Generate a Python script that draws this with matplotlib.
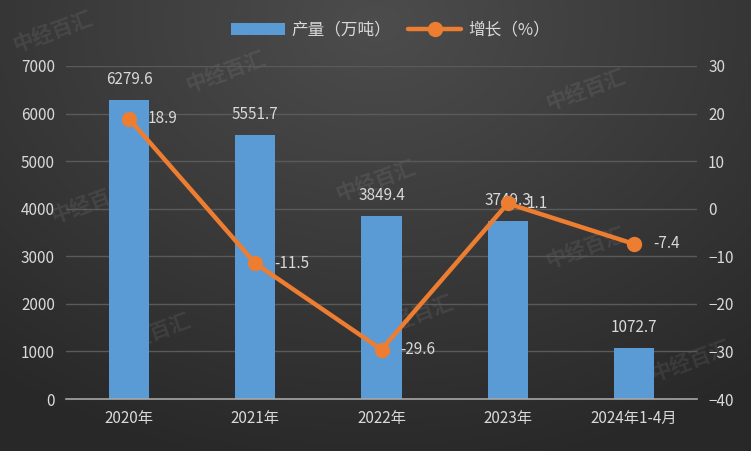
import matplotlib.pyplot as plt
import numpy as np

plt.rcParams['font.family'] = ['Noto Sans CJK SC', 'DejaVu Sans']

categories = ["2020年", "2021年", "2022年", "2023年", "2024年1-4月"]
output = [6279.6, 5551.7, 3849.4, 3749.3, 1072.7]
growth = [18.9, -11.5, -29.6, 1.1, -7.4]

text_color = "#d9d9d9"
bar_color = "#5b9bd5"
line_color = "#ed7d31"

fig = plt.figure(figsize=(7.51, 4.51), dpi=100)

# background: dark radial gradient
bg = fig.add_axes([0, 0, 1, 1])
yy, xx = np.mgrid[0:1:200j, 0:1:300j]
r = np.sqrt(((xx - 0.5) / 0.8) ** 2 + ((yy - 0.05) / 1.0) ** 2)
shade = 0.30 - 0.14 * np.clip(r, 0, 1)
bg.imshow(np.dstack([shade, shade, shade]), aspect="auto", extent=[0, 1, 0, 1], origin="upper")
bg.axis("off")

# faint watermarks
for (wx, wy) in [(0.07, 0.93), (0.3, 0.84), (0.78, 0.8), (0.12, 0.55), (0.5, 0.6),
                 (0.78, 0.45), (0.2, 0.26), (0.55, 0.3), (0.92, 0.2)]:
    bg.text(wx, wy, "中经百汇", transform=bg.transAxes, fontsize=15, color="white",
            alpha=0.08, rotation=20, ha="center", va="center", fontweight="bold")

ax = fig.add_axes([66 / 751, 1 - 399 / 451, 631 / 751, 333 / 451])
ax.patch.set_alpha(0)
x = np.arange(len(categories))
bars = ax.bar(x, output, width=0.32, color=bar_color, label="产量（万吨）", zorder=2)
ax.set_ylim(0, 7000)
ax.set_yticks(range(0, 7001, 1000))
ax.set_xlim(-0.5, len(categories) - 0.5)
ax.set_xticks(x)
ax.set_xticklabels(categories)
ax.grid(axis="y", color="#5a5a5a", linewidth=1, zorder=0)
ax.set_axisbelow(True)
for s in ["top", "right", "left"]:
    ax.spines[s].set_visible(False)
ax.spines["bottom"].set_color("#a6a6a6")
ax.spines["bottom"].set_linewidth(1.2)
ax.tick_params(axis="both", colors=text_color, labelsize=11, length=0, pad=8)

for xi, v in zip(x, output):
    ax.text(xi, v + 250, f"{v:.1f}", ha="center", va="bottom", color=text_color, fontsize=11)

ax2 = ax.twinx()
ax2.set_ylim(-40, 30)
ax2.set_yticks(range(-40, 31, 10))
ax2.plot(x, growth, color=line_color, linewidth=3.2, marker="o", markersize=10,
         label="增长（%）", zorder=3, solid_capstyle="round")
for s in ax2.spines.values():
    s.set_visible(False)
ax2.tick_params(axis="y", colors=text_color, labelsize=11, length=0, pad=8)
for xi, g in zip(x, growth):
    ax2.text(xi + 0.15, g, f"{g:.1f}", ha="left", va="center", color=text_color, fontsize=11)

h1, l1 = ax.get_legend_handles_labels()
h2, l2 = ax2.get_legend_handles_labels()
fig.legend(h1 + h2, l1 + l2, loc="center", bbox_to_anchor=(0.52, 0.933), ncol=2,
           frameon=False, fontsize=12, labelcolor=text_color, handlelength=3.2,
           columnspacing=1.0, handletextpad=0.4)

fig.savefig("out.png", dpi=100)
